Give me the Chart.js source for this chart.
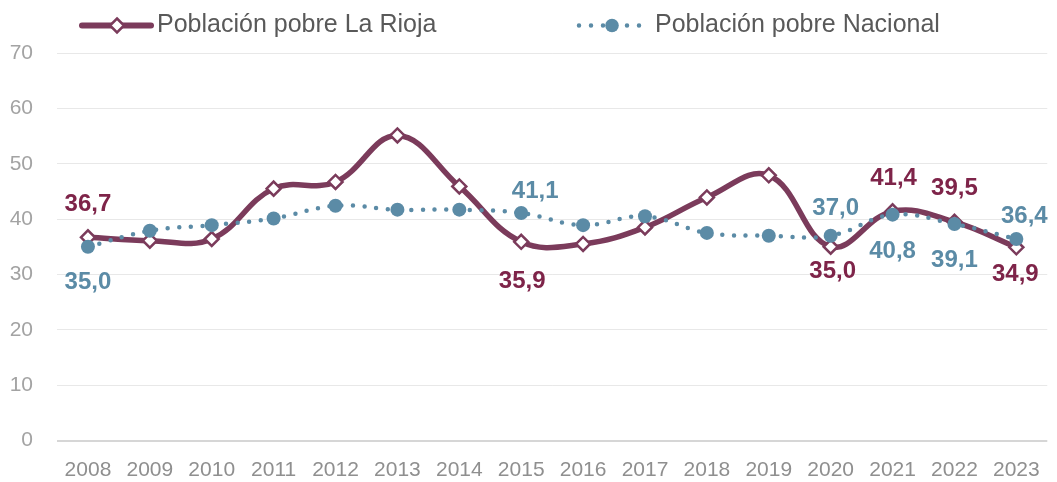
<!DOCTYPE html>
<html lang="es">
<head>
<meta charset="utf-8">
<script src="https://cdn.jsdelivr.net/npm/chart.js@4/dist/chart.umd.min.js"></script>
<style>
  html, body { margin: 0; padding: 0; background: #ffffff; }
  #wrap { width: 1057px; height: 482px; position: relative; }
</style>
</head>
<body>
<div id="wrap"><canvas id="c"></canvas></div>
<script>
// Años y tasas de población pobre (%)
const years = ['2008','2009','2010','2011','2012','2013','2014','2015','2016','2017','2018','2019','2020','2021','2022','2023'];
const laRioja  = [36.7, 36.1, 36.4, 45.5, 46.7, 55.1, 45.9, 35.9, 35.5, 38.5, 43.9, 47.9, 35.0, 41.4, 39.5, 34.9];
const nacional = [35.0, 37.9, 38.9, 40.1, 42.4, 41.7, 41.7, 41.1, 38.9, 40.5, 37.5, 37.0, 37.0, 40.8, 39.1, 36.4];
const seriesNames = ['Población pobre La Rioja', 'Población pobre Nacional'];
const yTicks = [0, 10, 20, 30, 40, 50, 60, 70];

// Años con etiqueta de valor en cada serie
const riojaLabelYears = ['2008', '2015', '2020', '2021', '2022', '2023'];
const nacionalLabelYears = ['2008', '2015', '2020', '2021', '2022', '2023'];

// Colocación de las etiquetas (desplazamiento en px respecto al punto)
const riojaLabelOffsets = {
  '2008': [0, -33], '2015': [1, 40], '2020': [2, 25],
  '2021': [1, -33], '2022': [0, -33], '2023': [-1, 27]
};
const nacionalLabelOffsets = {
  '2008': [0, 36], '2015': [14, -22], '2020': [5, -27],
  '2021': [0, 37], '2022': [0, 36], '2023': [8, -23]
};

const RIOJA = '#7b3b5b';
const RIOJA_TEXT = '#7e2449';
const NAC = '#5b8ba6';
const NAC_TEXT = '#5b8ba6';

const fmt = v => v.toFixed(1).replace('.', ',');

// Etiquetas de valor
const valueLabels = {
  id: 'valueLabels',
  afterDatasetsDraw(chart) {
    const ctx = chart.ctx;
    const sets = [
      { ds: 0, years: riojaLabelYears, off: riojaLabelOffsets, color: RIOJA_TEXT },
      { ds: 1, years: nacionalLabelYears, off: nacionalLabelOffsets, color: NAC_TEXT }
    ];
    ctx.save();
    ctx.font = 'bold 24px "Liberation Sans", Arial, sans-serif';
    ctx.textAlign = 'center';
    ctx.textBaseline = 'middle';
    sets.forEach(s => {
      const meta = chart.getDatasetMeta(s.ds);
      const data = chart.data.datasets[s.ds].data;
      s.years.forEach(y => {
        const i = years.indexOf(y);
        const pt = meta.data[i];
        const o = s.off[y] || [0, -30];
        ctx.fillStyle = s.color;
        ctx.fillText(fmt(data[i]), pt.x + o[0], pt.y + o[1]);
      });
    });
    ctx.restore();
  }
};

// Leyenda con muestra de línea y marcador
const lineLegend = {
  id: 'lineLegend',
  afterDraw(chart) {
    const ctx = chart.ctx;
    const y = 25.5;
    ctx.save();
    // Serie La Rioja
    ctx.strokeStyle = RIOJA;
    ctx.lineWidth = 6;
    ctx.lineCap = 'round';
    ctx.beginPath(); ctx.moveTo(82, y); ctx.lineTo(151, y); ctx.stroke();
    ctx.fillStyle = '#ffffff';
    ctx.lineWidth = 2.5;
    ctx.beginPath();
    ctx.moveTo(117, y - 7); ctx.lineTo(124, y); ctx.lineTo(117, y + 7); ctx.lineTo(110, y); ctx.closePath();
    ctx.fill(); ctx.stroke();
    // Serie Nacional
    ctx.strokeStyle = NAC;
    ctx.lineWidth = 4.5;
    ctx.setLineDash([0, 12]);
    ctx.beginPath(); ctx.moveTo(579, y); ctx.lineTo(645, y); ctx.stroke();
    ctx.setLineDash([]);
    ctx.fillStyle = NAC;
    ctx.beginPath(); ctx.arc(612, y, 6.8, 0, Math.PI * 2); ctx.fill();
    // Textos
    ctx.fillStyle = '#595959';
    ctx.font = '25px "Liberation Sans", Arial, sans-serif';
    ctx.textBaseline = 'middle';
    ctx.textAlign = 'left';
    ctx.fillText(seriesNames[0], 157, y);
    ctx.fillText(seriesNames[1], 655, y);
    ctx.restore();
  }
};

new Chart(document.getElementById('c'), {
  type: 'line',
  data: {
    labels: years,
    datasets: [
      {
        label: seriesNames[0],
        data: laRioja,
        borderColor: RIOJA,
        borderWidth: 5.5,
        tension: 0.4,
        cubicInterpolationMode: 'default',
        pointStyle: 'rectRot',
        pointRadius: 7,
        pointBackgroundColor: '#ffffff',
        pointBorderColor: RIOJA,
        pointBorderWidth: 2.5,
        order: 2
      },
      {
        label: seriesNames[1],
        data: nacional,
        borderColor: NAC,
        borderWidth: 4.5,
        borderDash: [0, 11.7],
        borderCapStyle: 'round',
        tension: 0.4,
        pointStyle: 'circle',
        pointRadius: 7,
        pointBackgroundColor: NAC,
        pointBorderColor: NAC,
        pointBorderWidth: 0,
        order: 1
      }
    ]
  },
  options: {
    responsive: true,
    maintainAspectRatio: false,
    animation: false,
    layout: { padding: { top: 53, right: 3, bottom: 0, left: 0 } },
    plugins: {
      legend: { display: false },
      tooltip: { enabled: false }
    },
    scales: {
      x: {
        offset: true,
        afterFit(scale) { scale.height = 41.5; },
        grid: { display: false, drawTicks: false },
        border: { display: false },
        ticks: {
          color: '#8f8f8f',
          font: { family: '"Liberation Sans", Arial, sans-serif', size: 21 },
          padding: 17,
          maxRotation: 0,
          autoSkip: false
        }
      },
      y: {
        min: yTicks[0],
        max: yTicks[yTicks.length - 1],
        afterFit(scale) { scale.width = 57; },
        afterBuildTicks(scale) { scale.ticks = yTicks.map(v => ({ value: v })); },
        grid: {
          drawTicks: false,
          color: c => (c.tick && c.tick.value === 0) ? '#d6d6d6' : '#e8e8e8',
          lineWidth: c => (c.tick && c.tick.value === 0) ? 2 : 1
        },
        border: { display: false },
        ticks: {
          color: '#a3a3a3',
          font: { family: '"Liberation Sans", Arial, sans-serif', size: 21 },
          padding: 24
        }
      }
    }
  },
  plugins: [valueLabels, lineLegend]
});
</script>
</body>
</html>
